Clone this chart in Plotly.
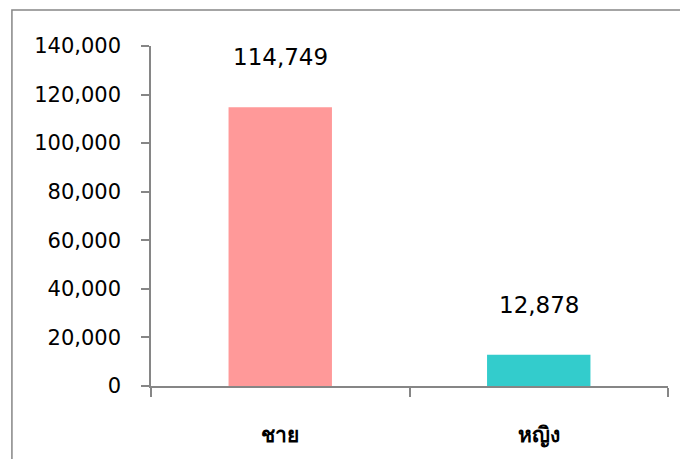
import plotly.graph_objects as go

categories = ["ชาย", "หญิง"]
values = [114749, 12878]
bar_colors = ["#FF9999", "#33CCCC"]
y_ticks = [0, 20000, 40000, 60000, 80000, 100000, 120000, 140000]

axis_grey = "#868686"
font_family = "Tahoma, 'DejaVu Sans', 'Noto Sans', sans-serif"

fig = go.Figure(
    go.Bar(
        x=categories,
        y=values,
        marker=dict(color=bar_colors, line=dict(width=0)),
        width=0.4,
    )
)

# data labels sit well above the bar tops, as in the spreadsheet original
for cat, val in zip(categories, values):
    fig.add_annotation(
        x=cat,
        y=val,
        text=f"{val:,}",
        showarrow=False,
        yshift=50,
        font=dict(size=23, color="black", family=font_family),
    )

# outer chart-area frame
fig.add_shape(
    type="rect",
    xref="paper",
    yref="paper",
    x0=-0.269,
    x1=1.3,
    y0=-0.4,
    y1=1.106,
    line=dict(color=axis_grey, width=1.5),
    layer="below",
)

# page body keeps an 8px margin, so the figure is a bit smaller than the window
fig.update_layout(
    width=680,
    height=451,
    margin=dict(l=143, r=20, t=38, b=73),
    paper_bgcolor="white",
    plot_bgcolor="white",
    showlegend=False,
    font=dict(family=font_family, color="black"),
)
fig.update_xaxes(
    automargin=False,
    showline=True,
    linecolor=axis_grey,
    linewidth=1.5,
    ticks="outside",
    tickson="boundaries",
    ticklen=9,
    tickcolor=axis_grey,
    tickwidth=1.5,
    tickfont=dict(size=21, family=font_family, weight="bold"),
    ticklabelstandoff=29,
)
fig.update_yaxes(
    automargin=False,
    range=[0, 140000],
    tickvals=y_ticks,
    tickformat=",",
    showgrid=False,
    zeroline=False,
    showline=True,
    linecolor=axis_grey,
    linewidth=1.5,
    ticks="outside",
    ticklen=8,
    tickcolor=axis_grey,
    tickwidth=1.5,
    tickfont=dict(size=21, family=font_family),
    ticklabelstandoff=16,
)

fig.write_html("out.html")
